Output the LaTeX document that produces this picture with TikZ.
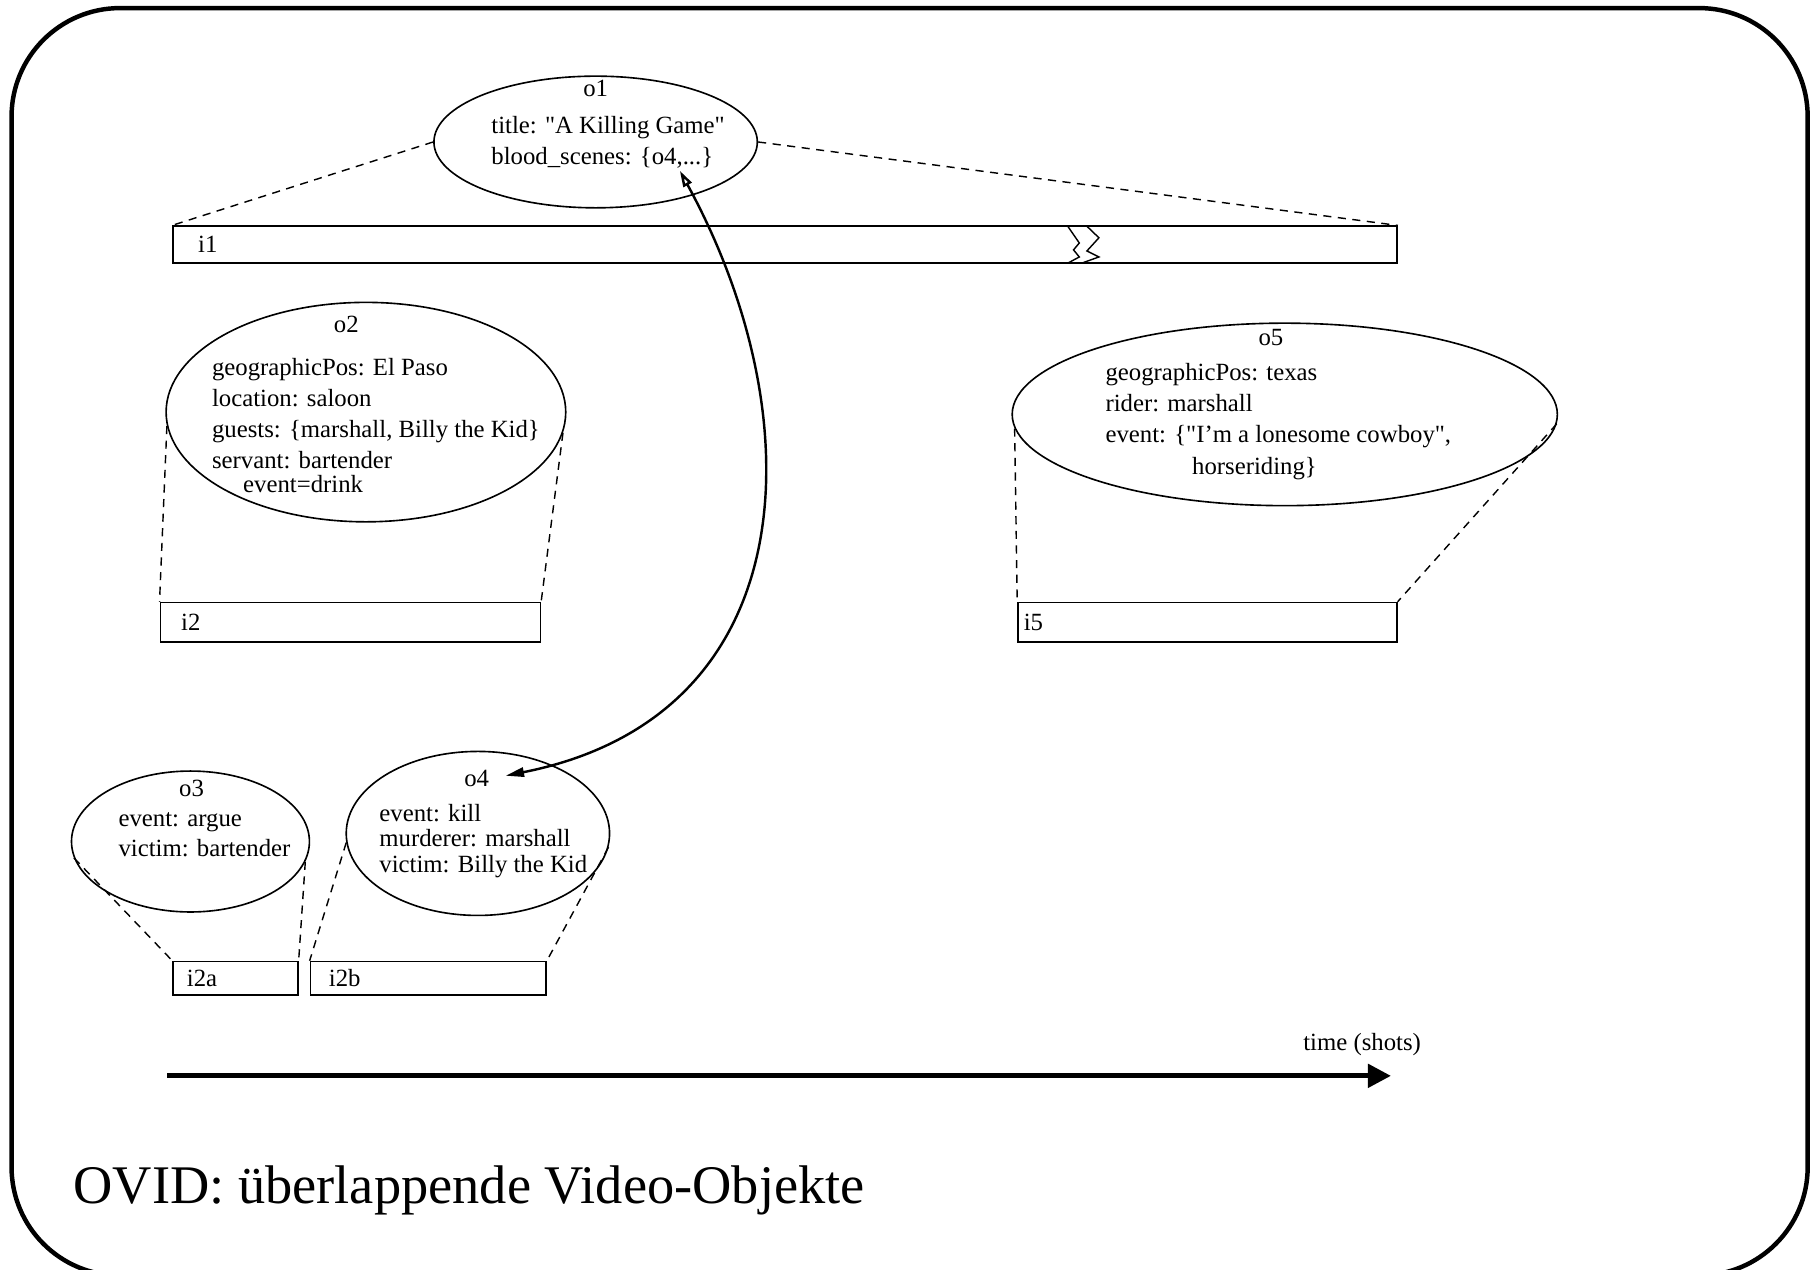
\documentclass[tikz,border=0pt]{standalone}
\usepackage{fontspec}
\setmainfont{Liberation Serif}
\usetikzlibrary{shapes.geometric,arrows.meta,positioning}

\tikzset{
  obj/.style={draw,ellipse,inner sep=0pt,line width=0.4pt},
  intv/.style={draw,rectangle,inner sep=0pt,line width=0.4pt},
  txt/.style={inner sep=0pt,font=\fontsize{6.1}{7.6}\selectfont,align=left},
  proj/.style={dash pattern=on 2pt off 1.6pt,line width=0.35pt},
}

\begin{document}
\begin{tikzpicture}[x=0.01cm,y=-0.01cm]
\useasboundingbox (0,0) rectangle (1568,1100);
\draw[line width=1.1pt,rounded corners=0.94cm] (10,7) rectangle (1566,1105);

% objects
\node[obj,minimum width=2.8cm,minimum height=1.14cm] (o1) at (516,123) {};
\node[obj,minimum width=3.46cm,minimum height=1.9cm] (o2) at (317,357) {};
\node[obj,minimum width=2.06cm,minimum height=1.22cm] (o3) at (165,729) {};
\node[obj,minimum width=2.28cm,minimum height=1.42cm] (o4) at (414,722) {};
\node[obj,minimum width=4.72cm,minimum height=1.58cm] (o5) at (1113,359) {};

\node[txt] (o1n) at (516,77) {o1};
\node[txt,anchor=north west] (o1t) at (425,100) {title: \textquotedbl A Killing Game\textquotedbl\\blood\_scenes: \{o4,...\}};
\node[txt] (o2n) at (300,281) {o2};
\node[txt,anchor=north west,font=\fontsize{6.1}{7.6}\selectfont] (o2t) at (183,310) {geographicPos: El Paso\\location: saloon\\guests: \{marshall, Billy the Kid\}\\servant: bartender};
\node[txt,anchor=north west] (o2e) at (210,411) {event=drink};
\node[txt] (o3n) at (166,683) {o3};
\node[txt,anchor=north west,font=\fontsize{6.1}{7.4}\selectfont] (o3t) at (102,703) {event: argue\\victim: bartender};
\node[txt] (o4n) at (413,674) {o4};
\node[txt,anchor=north west,font=\fontsize{6.1}{6.3}\selectfont] (o4t) at (328,696) {event: kill\\murderer: marshall\\victim: Billy the Kid};
\node[txt] (o5n) at (1101,292) {o5};
\node[txt,anchor=north west,font=\fontsize{6.1}{7.7}\selectfont] (o5t) at (957,314) {geographicPos: texas\\rider: marshall\\event: \{\textquotedbl I'm a lonesome cowboy\textquotedbl,\\\hspace*{0.75cm}horseriding\}};

% intervals
\node[intv,minimum width=10.6cm,minimum height=0.32cm] (i1) at (680,212) {};
\node[intv,minimum width=3.29cm,minimum height=0.34cm] (i2) at (303.5,539) {};
\node[intv,minimum width=3.28cm,minimum height=0.34cm] (i5) at (1046,539) {};
\node[intv,minimum width=1.08cm,minimum height=0.29cm] (i2a) at (204,847.5) {};
\node[intv,minimum width=2.04cm,minimum height=0.29cm] (i2b) at (371,847.5) {};

\node[txt,right=0.22cm of i1.west] (i1l) {i1};
\node[txt,right=0.18cm of i2.west] (i2l) {i2};
\node[txt,right=0.05cm of i5.west] (i5l) {i5};
\node[txt,right=0.12cm of i2a.west] (i2al) {i2a};
\node[txt,right=0.16cm of i2b.west] (i2bl) {i2b};

% break in i1
\draw[line width=0.35pt] (925,196) -- (935,210.5) -- (930,216.5) -- (935,222.6) -- (925,228);
\draw[line width=0.35pt] (941.6,196) -- (952,206) -- (941.6,217.4) -- (952,222.6) -- (937,228);

% projections
\draw[proj] (o1.west) -- (i1.north west);
\draw[proj] (o1.east) -- (i1.north east);
\draw[proj] (o2.184) -- (i2.north west);
\draw[proj] (o2.-6) -- (i2.north east);
\draw[proj] (o5.183) -- (i5.north west);
\draw[proj] (o5.-2) -- (i5.north east);
\draw[proj] (o3.188) -- (i2a.north west);
\draw[proj] (o3.-10) -- (i2a.north east);
\draw[proj] (o4.184) -- (i2b.north west);
\draw[proj] (o4.-6) -- (i2b.north east);

% reference o1 -> o4
\coordinate (ref) at (589,148);
\coordinate (hit) at (438,672);
\draw[line width=0.6pt,{Triangle[open,length=0.14cm,width=0.08cm]}-{Triangle[length=0.16cm,width=0.08cm]}] (ref) .. controls (705,360) and (700,620) .. (hit);

% time axis
\coordinate (t0) at (145,932);
\coordinate (t1) at (1205,932);
\draw[line width=1.2pt,-{Triangle[length=0.2cm,width=0.2cm]}] (t0) -- (t1);
\node[txt] (tlbl) at (1180,905) {time (shots)};

\node[inner sep=0pt,anchor=base west,font=\fontsize{13.4}{16}\selectfont] (ttl) at (63,1043) {OVID: überlappende Video-Objekte};
\end{tikzpicture}
\end{document}
